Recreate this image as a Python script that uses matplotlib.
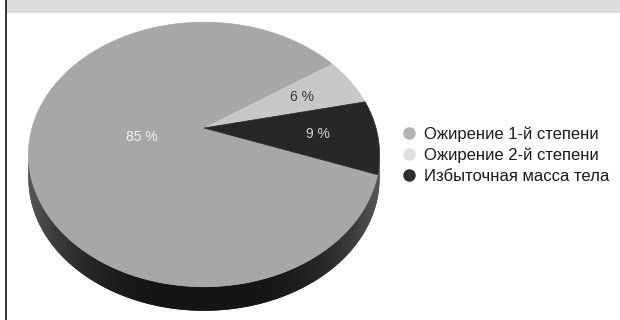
import numpy as np
import matplotlib
matplotlib.use("Agg")
import matplotlib.pyplot as plt
from matplotlib.patches import Polygon, Rectangle
from matplotlib.lines import Line2D

plt.rcParams['font.family'] = ['Liberation Sans', 'DejaVu Sans']

# ---- data ----
categories = ["Ожирение 1-й степени", "Ожирение 2-й степени", "Избыточная масса тела"]
values = [85, 6, 9]
value_labels = ["85 %", "6 %", "9 %"]

# ---- styles ----
slice_colors = ["#a7a7a7", "#c8c8c8", "#272727"]
legend_colors = ["#b3b3b3", "#dedede", "#2e2e2e"]
label_colors = ["#f2f2f2", "#3a3a3a", "#d6d6d6"]
label_radius = [0.36, 0.65, 0.66]
label_dy = [3, 0, 0]

W, H = 620, 320
fig = plt.figure(figsize=(W / 100, H / 100), dpi=100)
ax = fig.add_axes([0, 0, 1, 1])
ax.set_xlim(0, W)
ax.set_ylim(H, 0)
ax.axis("off")

# header band and left border
ax.add_patch(Rectangle((6, 0), W - 6, 13, facecolor="#dcdcdc", edgecolor="none"))
ax.plot([5.5, 5.5], [0, H], color="#111111", lw=1.2)

# perspective projection of the unit disc
cx, cy, R, C, k, depth = 204.0, 128.0, 172.0, 127.0, 0.2, 24.0


def proj(u, v):
    s = 1.0 + k * v
    return cx + R * u / s, cy - C * v / s


# side (depth) of the pie
th = np.linspace(0, 2 * np.pi, 721)
X, Y = proj(np.cos(th), np.sin(th))
il, ir = np.argmin(X), np.argmax(X)
idx = np.arange(il, ir + 721) % 721 if ir < il else np.arange(il, ir + 1)
low_x, low_y = X[idx], Y[idx]
side_pts = np.concatenate([np.column_stack([low_x, low_y]),
                           np.column_stack([low_x[::-1], low_y[::-1] + depth])])
side = Polygon(side_pts, closed=True, facecolor="#1c1c1c", edgecolor="none")
ax.add_patch(side)
gx = np.linspace(-1, 1, 300)
grad = np.tile(np.abs(gx) ** 3, (10, 1))
im = ax.imshow(grad, extent=[X.min(), X.max(), Y.max() + depth, cy], cmap="gray",
               vmin=-0.3, vmax=3.5, aspect="auto", zorder=2)
im.set_clip_path(side)

# top surface wedges: clockwise from -20 degrees
start = -20.0
frac = np.array(values, dtype=float) / np.sum(values)
ang = start - np.concatenate([[0], np.cumsum(frac)]) * 360.0
for i in range(len(values)):
    t = np.radians(np.linspace(ang[i], ang[i + 1], 300))
    px, py = proj(np.cos(t), np.sin(t))
    pts = np.column_stack([np.concatenate([[cx], px]), np.concatenate([[cy], py])])
    ax.add_patch(Polygon(pts, closed=True, facecolor=slice_colors[i],
                         edgecolor=slice_colors[i], lw=0.5, zorder=3))
    mid = np.radians((ang[i] + ang[i + 1]) / 2)
    lx, ly = proj(label_radius[i] * np.cos(mid), label_radius[i] * np.sin(mid))
    ax.text(lx, ly + label_dy[i], value_labels[i], color=label_colors[i], fontsize=10,
            ha="center", va="center", zorder=4)

# legend
handles = [Line2D([], [], marker="o", linestyle="none", markersize=8,
                  markerfacecolor=c, markeredgecolor=c) for c in legend_colors]
leg = ax.legend(handles, categories, loc="center left",
                bbox_to_anchor=(403 / W, 1 - 155 / H), frameon=False,
                fontsize=12, handlelength=0.7, handletextpad=0.55,
                labelspacing=0.36, borderaxespad=0, borderpad=0)
for t in leg.get_texts():
    t.set_color("#1a1a1a")

fig.savefig("out.png", dpi=100)
